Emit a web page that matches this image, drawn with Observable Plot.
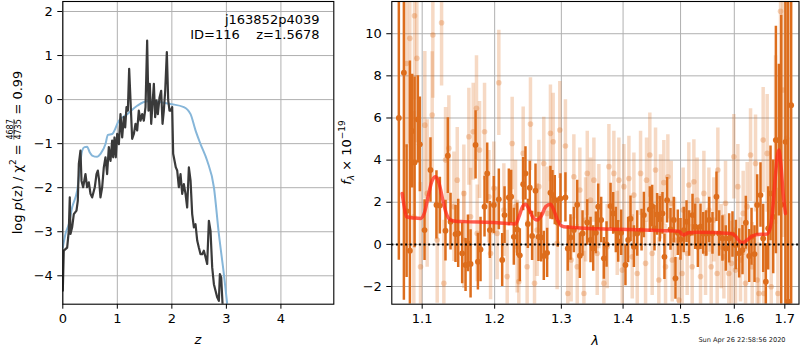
<!DOCTYPE html>
<html><head><meta charset="utf-8">
<script src="https://cdn.jsdelivr.net/npm/d3@7"></script>
<script src="https://cdn.jsdelivr.net/npm/@observablehq/plot@0.6"></script>
<style>
html,body{margin:0;padding:0;background:#fff;}
#wrap{position:relative;width:800px;height:350px;overflow:hidden;background:#fff;}
#wrap > svg{position:absolute;top:0;}
</style></head><body><div id="wrap"></div>
<script>
// ---------- left panel: log p(z) ----------
const zTicks = [0, 1, 2, 3, 4];
const lpTicks = [-4, -3, -2, -1, 0, 1, 2];
const pzZ = [0,0.018,0.080,0.110,0.128,0.141,0.171,0.202,0.251,0.275,0.294,0.324,0.343,0.373,0.416,0.446,0.477,0.508,0.538,0.587,0.618,0.642,0.667,0.691,0.722,0.752,0.783,0.813,0.844,0.875,0.905,0.924,0.948,0.972,0.997,1.028,1.058,1.089,1.119,1.144,1.168,1.193,1.217,1.242,1.272,1.303,1.333,1.364,1.394,1.425,1.456,1.486,1.517,1.547,1.572,1.596,1.621,1.645,1.670,1.694,1.719,1.743,1.774,1.804,1.829,1.853,1.878,1.908,1.933,1.957,1.982,2.006,2.024,2.049,2.073,2.098,2.128,2.159,2.190,2.220,2.251,2.281,2.312,2.343,2.373,2.404,2.434,2.465,2.495,2.526,2.557,2.587,2.618,2.648,2.679,2.709,2.740,2.771,2.801,2.832,2.862,2.881,2.905,2.930];
const pzLog = [-4.34,-3.43,-3.36,-2.98,-2.22,-3.05,-2.90,-2.60,-2.52,-2.30,-1.46,-1.16,-1.84,-1.99,-1.69,-1.99,-1.88,-2.14,-2.22,-1.99,-1.69,-1.61,-1.84,-2.22,-1.99,-1.54,-1.31,-1.69,-1.08,-1.39,-0.93,-1.31,-0.86,-1.31,-0.78,-1.01,-0.33,-0.86,-0.40,-0.63,-0.17,-0.25,0.70,-0.02,-0.89,-0.78,-0.55,-0.70,-0.25,-0.48,-0.33,-0.48,-0.17,1.34,-0.25,0.36,-0.55,-0.10,0.36,-0.40,-0.02,-0.33,0.05,0.20,-0.55,-0.25,0.20,1.08,-0.02,-0.25,-0.25,-0.17,-1.23,-1.39,-1.54,-1.61,-1.99,-1.69,-2.14,-1.92,-2.14,-2.45,-1.54,-1.84,-2.60,-2.90,-2.83,-3.20,-3.36,-3.51,-3.51,-3.43,-3.58,-3.73,-2.75,-2.98,-3.81,-4.19,-4.34,-4.49,-4.57,-3.96,-4.04,-4.66];
const chiZ = [0,0.049,0.110,0.171,0.263,0.355,0.398,0.446,0.495,0.538,0.630,0.691,0.783,0.826,0.905,1.028,1.180,1.364,1.547,1.792,1.976,2.220,2.343,2.434,2.526,2.648,2.771,2.862,2.954,3.015];
const chiLog = [-3.36,-3.05,-2.83,-2.45,-2.07,-1.16,-1.08,-1.07,-1.20,-1.27,-1.30,-1.23,-1.01,-0.80,-0.78,-0.48,-0.33,-0.14,-0.04,-0.06,-0.10,-0.17,-0.33,-0.70,-1.01,-1.39,-1.99,-3.05,-3.96,-4.64];

// ---------- right panel: spectrum ----------
const lamTicks = [1.1, 1.2, 1.3, 1.4, 1.5, 1.6, 1.7];
const fluxTicks = [-2, 0, 2, 4, 6, 8, 10];
const darkWave = [1.0696,1.0761,1.0796,1.0839,1.0869,1.0900,1.0943,1.0969,1.1031,1.1110,1.1190,1.1236,1.1312,1.1344,1.1381,1.1449,1.1486,1.1541,1.1588,1.1621,1.1658,1.1728,1.1761,1.1798,1.1855,1.1893,1.1931,1.1988,1.2060,1.2109,1.2143,1.2206,1.2240,1.2279,1.2329,1.2368,1.2418,1.2452,1.2488,1.2517,1.2552,1.2603,1.2648,1.2689,1.2729,1.2780,1.2831,1.2862,1.2898,1.2944,1.2986,1.3064,1.3101,1.3144,1.3197,1.3250,1.3292,1.3335,1.3410,1.3464,1.3507,1.3550,1.3588,1.3637,1.3681,1.3725,1.3791,1.3835,1.3879,1.3918,1.3968,1.4040,1.4085,1.4126,1.4183,1.4240,1.4314,1.4354,1.4457,1.4498,1.4538,1.4584,1.4631,1.4678,1.4713,1.4760,1.4820,1.4879,1.4909,1.4951,1.4999,1.5059,1.5108,1.5156,1.5217,1.5266,1.5315,1.5364,1.5414,1.5469,1.5525,1.5586,1.5661,1.5711,1.5774,1.5837,1.5901,1.5965,1.6029,1.6093,1.6158,1.6223,1.6288,1.6334,1.6393,1.6445,1.6511,1.6564,1.6617,1.6664,1.6711,1.6765,1.6819,1.6879,1.6927,1.7014,1.7069,1.7130];
const darkFlux = [6.0,8.15,1.58,-0.30,5.38,3.89,5.93,4.75,0.68,3.53,1.87,1.84,0.65,4.21,1.08,0.49,0.52,-0.43,-0.98,0.05,-0.93,4.72,-0.82,-0.24,1.79,3.37,0.68,1.87,2.14,-0.74,1.39,2.23,2.26,0.36,0.71,-0.52,2.86,3.37,0.97,2.69,0.40,2.55,0.36,0.33,-0.55,-0.40,2.45,2.34,2.10,1.03,2.18,2.23,-0.19,0.33,0.68,1.88,-0.54,0.52,1.04,0.21,-0.19,0.55,1.79,1.16,-0.66,0.00,1.82,1.47,0.68,0.14,0.55,-0.98,0.21,1.22,-0.11,0.52,0.68,1.39,1.66,1.82,0.76,1.42,1.19,1.47,-0.59,2.10,0.71,1.16,-1.61,0.55,0.24,0.68,1.08,0.52,1.39,0.84,-0.11,0.84,0.52,0.52,1.16,0.52,2.26,0.52,0.28,-0.19,0.28,0.47,-0.03,-0.43,-0.27,1.03,-0.55,0.36,-0.46,1.87,2.34,0.28,-1.77,0.76,2.42,1.31,4.95,4.95,1.88,4.87,-2.72,6.61];
const darkErr = [7.5,12,3.5,10,3.0,4.5,2.3,2.5,1.6,1.7,1.8,1.5,1.6,2.0,1.5,1.5,1.8,1.6,1.4,1.5,1.8,1.8,1.5,1.7,1.6,1.6,1.5,1.5,1.6,1.4,1.5,1.5,1.4,1.5,1.4,1.4,1.4,1.4,1.3,1.4,1.3,1.4,1.3,1.3,1.3,1.3,1.4,1.3,1.3,1.3,1.3,1.3,1.2,1.2,1.2,1.3,1.2,1.2,1.2,1.2,1.2,1.1,1.2,1.2,1.1,1.2,1.2,1.1,1.2,1.1,1.2,1.1,1.2,1.2,1.1,1.2,1.1,1.2,1.2,1.1,1.2,1.1,1.2,1.1,1.2,1.2,1.1,1.2,1.1,1.2,1.1,1.2,1.1,1.2,1.1,1.2,1.1,1.2,1.1,1.2,1.2,1.1,1.3,1.2,1.2,1.2,1.3,1.2,1.3,1.3,1.3,1.4,1.4,1.5,1.5,1.6,1.7,1.8,2.0,2.2,2.5,3.0,6.0,4.0,10,12,16,16];
const lightWave = [1.0795,1.0838,1.0899,1.0930,1.0978,1.1035,1.1133,1.1142,1.1259,1.1313,1.1358,1.1473,1.1564,1.1634,1.1695,1.1741,1.1784,1.1855,1.1917,1.1988,1.2060,1.2133,1.2255,1.2304,1.2353,1.2418,1.2527,1.2588,1.2654,1.2729,1.2831,1.2873,1.2976,1.3064,1.3101,1.3197,1.3292,1.3357,1.3411,1.3518,1.3599,1.3681,1.3764,1.3846,1.3930,1.4014,1.4098,1.4183,1.4297,1.4400,1.4457,1.4556,1.4643,1.4702,1.4773,1.4833,1.4892,1.4970,1.5047,1.5150,1.5242,1.5302,1.5426,1.5519,1.5611,1.5687,1.5750,1.5832,1.5895,1.5991,1.6068,1.6171,1.6249,1.6315,1.6413,1.6479,1.6564,1.6644,1.6725,1.6812,1.6859,1.6913,1.6968,1.7036,1.1564,1.1658,1.1751,1.1941,1.2036,1.2182,1.2329,1.2477,1.2628,1.2780,1.2934,1.3154,1.3250,1.3384,1.3464,1.3572,1.3736,1.3902,1.3986,1.4155,1.4240,1.4383,1.4498,1.4614,1.4732,1.4851,1.5029,1.5120,1.5211,1.5364,1.5457,1.5562,1.5674,1.5801,1.5946,1.6023,1.6119,1.6217,1.6347,1.6445,1.6577,1.0890,1.1066,1.1200,1.1290,1.1427];
const lightFlux = [8.59,9.78,10.85,8.83,-1.06,5.66,6.14,9.94,10.52,4.00,4.56,3.05,2.42,5.11,5.35,6.46,4.48,5.35,2.26,2.66,7.67,1.63,4.79,1.79,-1.77,4.32,5.71,-1.85,2.74,3.84,5.27,4.87,5.43,4.67,-2.33,3.21,2.58,-2.33,3.37,3.05,1.79,-1.85,3.69,3.37,3.05,2.74,3.13,2.34,3.37,3.05,4.24,3.53,2.26,2.93,3.21,1.95,0.21,-2.64,1.63,2.82,2.97,2.10,2.42,1.63,1.16,3.53,-0.11,1.95,-1.38,4.16,2.74,1.47,1.79,4.24,3.84,-2.33,4.95,4.32,-2.01,4.95,-2.33,11.07,7.33,5.03,0.21,1.31,0.52,-0.43,0.52,-1.53,-0.11,-1.06,0.68,1.47,0.05,-0.74,-1.06,1.16,2.10,-0.43,-0.11,0.52,-1.22,-0.59,-1.38,-0.90,-0.43,-1.69,-1.06,-0.74,-1.38,-0.43,-1.06,-1.53,-0.43,-1.06,-1.38,-0.59,-0.90,-1.22,-0.74,-1.85,-1.06,-1.69,-2.33,1.31,2.42,0.21,-1.85,1.79];
const lightErr = [4,5,4,4,4,3.5,3,3,3,2.5,2.5,2.5,2.3,2.3,2.3,2.5,2.3,2.3,2.2,2.2,2.5,2.2,2.2,2.2,2.2,2.2,2.2,2.2,2.2,2.2,2.3,2.3,2.3,2.2,2.2,2.0,2.0,2.0,2.0,2.0,2.0,2.0,2.0,2.0,2.0,2.0,2.0,2.0,2.0,2.0,2.0,2.0,2.0,2.0,2.0,2.0,2.0,2.0,2.0,2.0,2.0,2.0,2.0,2.0,2.0,2.0,2.0,2.0,2.0,2.0,2.0,2.0,2.1,2.2,2.3,2.4,2.5,2.8,3,4,5,6,7,8,2.3,2.3,2.3,2.2,2.2,2.2,2.2,2.2,2.2,2.2,2.2,2.0,2.0,2.0,2.0,2.0,2.0,2.0,2.0,2.0,2.0,2.0,2.0,2.0,2.0,2.0,2.0,2.0,2.0,2.0,2.0,2.0,2.0,2.0,2.0,2.0,2.0,2.0,2.1,2.2,2.4,5,3.5,3,3,2.6];
const modelWave = [1.0739,1.0765,1.0795,1.0900,1.0978,1.1030,1.1080,1.1130,1.1178,1.1225,1.1270,1.1320,1.1380,1.1450,1.1564,1.2036,1.2304,1.2360,1.2410,1.2452,1.2500,1.2560,1.2628,1.2690,1.2760,1.2831,1.2880,1.2934,1.2990,1.3038,1.3571,1.4124,1.4702,1.4969,1.5020,1.5059,1.5110,1.5150,1.5302,1.5927,1.6023,1.6080,1.6151,1.6249,1.6340,1.6445,1.6644,1.6711,1.6760,1.6810,1.6879,1.6920,1.6966,1.7014];
const modelFlux = [2.42,1.80,1.31,1.25,1.23,1.50,2.30,3.00,3.21,2.90,2.20,1.50,1.16,1.10,1.08,1.03,0.97,1.35,1.80,1.91,1.70,1.30,1.16,1.35,1.80,1.91,1.65,1.20,0.90,0.84,0.74,0.71,0.65,0.62,0.50,0.44,0.52,0.55,0.57,0.52,0.40,0.20,0.08,0.21,0.38,0.47,0.49,0.84,1.80,3.30,4.48,3.80,2.40,1.47];

// ---------- texts ----------
const objName = "j163852p4039";
const objInfo = "ID=116    z=1.5678";
const chiNum = "4687", chiDen = "4735", chiVal = "0.99";
const stamp = "Sun Apr 26 22:58:56 2020";

const FONT = '"DejaVu Sans", sans-serif';
const GRID = "#b0b0b0";
const ORANGE = "#dd6d1c";
const fmtNum = d => (d < 0 ? "\u2212" + Math.abs(d) : String(d));

const pzData = pzZ.map((z, i) => ({z, v: pzLog[i]}));
const chiData = chiZ.map((z, i) => ({z, v: chiLog[i]}));
const dark = darkWave.map((w, i) => ({w, f: darkFlux[i], e: darkErr[i]}));
const light = lightWave.map((w, i) => ({w, f: lightFlux[i], e: lightErr[i]}));
const model = modelWave.map((w, i) => ({w, f: modelFlux[i]}));

const LY = [-4.645, 2.227];
const RY = [-2.84, 11.53];
const RX = [1.0606, 1.7292];

const wrap = document.getElementById("wrap");

const leftPlot = Plot.plot({
  width: 340, height: 350,
  marginLeft: 62.3, marginRight: 6.7, marginTop: 1, marginBottom: 46.3,
  style: {fontFamily: FONT, fontSize: "13px", color: "black", background: "transparent", overflow: "visible"},
  x: {domain: [0, 4.97], ticks: zTicks, tickSize: 5, tickPadding: 5, label: null, tickFormat: fmtNum},
  y: {domain: LY, ticks: lpTicks, tickSize: 5, tickPadding: 5, label: null, tickFormat: fmtNum},
  marks: [
    Plot.ruleX(zTicks, {stroke: GRID, strokeWidth: 1}),
    Plot.ruleY(lpTicks, {stroke: GRID, strokeWidth: 1}),
    Plot.line(chiData, {x: "z", y: d => Math.max(d.v, LY[0]), stroke: "#86b6d9", strokeWidth: 2, curve: "monotone-x", clip: true}),
    Plot.line(pzData, {x: "z", y: d => Math.max(d.v, LY[0]), stroke: "#3a3a3a", strokeWidth: 2.2, clip: true}),
    Plot.frame({stroke: "black", strokeWidth: 1.1})
  ]
});
leftPlot.style.left = "0px";
wrap.appendChild(leftPlot);

const clampY = v => Math.max(RY[0], Math.min(RY[1], v));
const rightPlot = Plot.plot({
  width: 460, height: 350,
  marginLeft: 51.3, marginRight: 1.5, marginTop: 1, marginBottom: 46.3,
  style: {fontFamily: FONT, fontSize: "13px", color: "black", background: "transparent", overflow: "visible"},
  x: {type: "log", domain: RX, ticks: lamTicks, tickSize: 5, tickPadding: 5, label: null, tickFormat: d => d.toFixed(1)},
  y: {domain: RY, ticks: fluxTicks, tickSize: 5, tickPadding: 5, label: null, tickFormat: fmtNum},
  marks: [
    Plot.ruleX(lamTicks, {stroke: GRID, strokeWidth: 1}),
    Plot.ruleY(fluxTicks, {stroke: GRID, strokeWidth: 1}),
    Plot.ruleX(light, {x: "w", y1: d => clampY(d.f - d.e), y2: d => clampY(d.f + d.e), stroke: ORANGE, strokeOpacity: 0.26, strokeWidth: 3.5, clip: true}),
    Plot.dot(light, {x: "w", y: "f", r: 2.8, fill: ORANGE, fillOpacity: 0.3, stroke: "none", clip: true}),
    Plot.ruleX(dark, {x: "w", y1: d => clampY(d.f - d.e * 0.9), y2: d => clampY(d.f + d.e * 0.9), stroke: ORANGE, strokeWidth: 2.5, clip: true}),
    Plot.dot(dark, {x: "w", y: "f", r: 2.9, fill: ORANGE, stroke: "none", clip: true}),
    Plot.line(model, {x: "w", y: "f", stroke: "#ff2a1a", strokeOpacity: 0.75, strokeWidth: 3.5, curve: "monotone-x", clip: true}),
    Plot.ruleY([0], {stroke: "black", strokeWidth: 2, strokeDasharray: "2,2.6"}),
    Plot.frame({stroke: "black", strokeWidth: 1.1})
  ]
});
rightPlot.style.left = "340px";
wrap.appendChild(rightPlot);

// ---------- overlay texts ----------
const ov = d3.select(wrap).append("svg")
  .attr("width", 800).attr("height", 350)
  .style("left", "0px").style("pointer-events", "none")
  .style("font-family", FONT).attr("fill", "black");

ov.append("text").attr("x", 319.5).attr("y", 24).attr("text-anchor", "end").attr("font-size", 13).text(objName);
ov.append("text").attr("x", 319.5).attr("y", 39).attr("text-anchor", "end").attr("font-size", 13)
  .style("white-space", "pre").text(objInfo);

ov.append("text").attr("x", 197.8).attr("y", 344).attr("text-anchor", "middle").attr("font-size", 13)
  .attr("font-style", "italic").text("z");
ov.append("text").attr("x", 595).attr("y", 345).attr("text-anchor", "middle").attr("font-size", 13)
  .attr("font-style", "italic").text("λ");
ov.append("text").attr("x", 742).attr("y", 341.5).attr("text-anchor", "middle").attr("font-size", 6.6)
  .attr("fill", "#222").text(stamp);

// left y label with stacked fraction
const gl = ov.append("g").attr("transform", "translate(21.5,152.5) rotate(-90)");
const t1 = gl.append("text").attr("font-size", 13).attr("x", 0).attr("y", 0);
t1.append("tspan").text("log ");
t1.append("tspan").attr("font-style", "italic").text("p");
t1.append("tspan").text("(z) / \u03C7");
t1.append("tspan").attr("font-size", 9).attr("dy", -6).text("2");
t1.append("tspan").attr("dy", 6).style("white-space", "pre").text(" = ");
const w1 = t1.node().getComputedTextLength();
const fn = gl.append("text").attr("font-size", 8).attr("text-anchor", "middle").text(chiNum);
const fd = gl.append("text").attr("font-size", 8).attr("text-anchor", "middle").text(chiDen);
const fw = Math.max(fn.node().getComputedTextLength(), fd.node().getComputedTextLength()) + 1;
const t2 = gl.append("text").attr("font-size", 13).style("white-space", "pre").text(" = " + chiVal);
const w2 = t2.node().getComputedTextLength();
const total = w1 + fw + w2;
const x0 = -total / 2;
t1.attr("x", x0);
fn.attr("x", x0 + w1 + fw / 2).attr("y", -8.8);
fd.attr("x", x0 + w1 + fw / 2).attr("y", -0.3);
gl.append("line").attr("x1", x0 + w1 + 0.5).attr("x2", x0 + w1 + fw - 0.5)
  .attr("y1", -7.6).attr("y2", -7.6).attr("stroke", "black").attr("stroke-width", 0.6);
t2.attr("x", x0 + w1 + fw);

// right y label
const gr = ov.append("g").attr("transform", "translate(351,152.5) rotate(-90)");
const tr = gr.append("text").attr("font-size", 13).attr("text-anchor", "middle");
tr.append("tspan").attr("font-style", "italic").text("f");
tr.append("tspan").attr("font-size", 9).attr("dy", 3).attr("font-style", "italic").text("λ");
tr.append("tspan").attr("dy", -3).style("white-space", "pre").text(" \u00D7 10");
tr.append("tspan").attr("font-size", 9).attr("dy", -6).text("\u221219");
</script>
</body></html>
